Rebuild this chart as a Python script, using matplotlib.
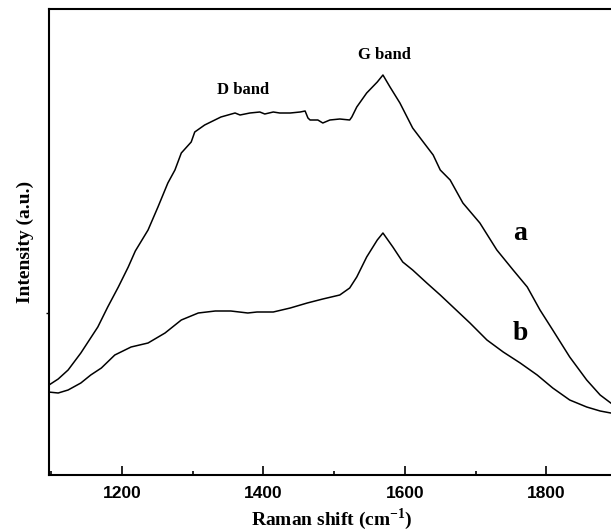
import matplotlib
matplotlib.use("Agg")
import matplotlib.pyplot as plt
from matplotlib.ticker import MultipleLocator

plt.rcParams['mathtext.fontset'] = 'custom'
plt.rcParams['mathtext.rm'] = 'Liberation Serif:bold'
plt.rcParams['mathtext.bf'] = 'Liberation Serif:bold'

# Curve a (Raman shift, intensity a.u.)
x_a = [1097, 1110, 1124, 1142, 1166, 1180, 1195, 1209, 1219, 1237, 1251, 1265, 1275, 1284,
       1298, 1303, 1317, 1340, 1360, 1367, 1381, 1395, 1402, 1414, 1423, 1438, 1452, 1459,
       1463, 1466, 1477, 1484, 1494, 1508, 1522, 1525, 1532, 1546, 1561, 1569, 1579, 1593,
       1611, 1626, 1640, 1650, 1664, 1682, 1706, 1730, 1753, 1773, 1791, 1809, 1833, 1857,
       1876, 1891]
y_a = [90, 96, 105, 122, 148, 168, 188, 208, 224, 245, 268, 292, 305, 322,
       333, 343, 350, 358, 362, 360, 362, 363, 361, 363, 362, 362, 363, 364,
       357, 355, 355, 352, 355, 356, 355, 358, 368, 382, 393, 400, 388, 372,
       347, 333, 320, 305, 295, 272, 252, 225, 205, 188, 165, 145, 118, 95,
       80, 72]

# Curve b
x_b = [1096, 1110, 1124, 1142, 1156, 1171, 1190, 1213, 1237, 1261, 1284, 1308, 1332, 1354,
       1378, 1391, 1414, 1438, 1462, 1484, 1508, 1522, 1532, 1546, 1561, 1569, 1583,
       1597, 1611, 1631, 1650, 1668, 1692, 1716, 1739, 1763, 1787, 1809, 1833, 1857, 1876,
       1891]
y_b = [83, 82, 85, 92, 100, 107, 120, 128, 132, 142, 155, 162, 164, 164,
       162, 163, 163, 167, 172, 176, 180, 187, 198, 218, 235, 242, 228,
       213, 205, 192, 180, 168, 152, 135, 123, 112, 100, 87, 75, 68, 64,
       62]

x_ticks = [1200, 1400, 1600, 1800]
tick_labels = ['1200', '1400', '1600', '1800']

W, H = 611, 532
fig = plt.figure(figsize=(W / 100, H / 100), dpi=100)
ax = fig.add_axes([49 / W, (H - 475) / H, 566 / W, 466 / H])

ax.plot(x_a, y_a, color='black', lw=1.1)
ax.plot(x_b, y_b, color='black', lw=1.1)

ax.set_xlim(1097, 1897)
ax.set_ylim(0, 466)

for s in ['left', 'bottom', 'top', 'right']:
    ax.spines[s].set_linewidth(1.5)

ax.set_xticks(x_ticks)
ax.set_xticklabels(tick_labels, fontfamily='Liberation Sans', fontweight='bold', fontsize=12.5)
ax.xaxis.set_minor_locator(MultipleLocator(100))
ax.tick_params(axis='x', which='major', direction='in', length=6.5, width=1.2, pad=8)
ax.tick_params(axis='x', which='minor', direction='in', length=3, width=1.2)
ax.tick_params(axis='x', which='both', top=False)

ax.set_yticks([162])
ax.set_yticklabels([''])
ax.tick_params(axis='y', which='major', direction='out', length=2, width=1.0)

ax.set_xlabel('Raman shift (cm$^{-1}$)', fontfamily='Liberation Serif',
              fontweight='bold', fontsize=14, labelpad=4)
ax.set_ylabel('Intensity (a.u.)', fontfamily='Liberation Serif',
              fontweight='bold', fontsize=14, labelpad=5)

tf = dict(fontfamily='Liberation Serif', fontweight='bold', ha='center', va='center')
ax.text(1371, 475 - 90, 'D band', fontsize=12, **tf)
ax.text(1571, 475 - 55, 'G band', fontsize=12, **tf)
ax.text(1763, 475 - 234, 'a', fontsize=20, **tf)
ax.text(1763, 475 - 334, 'b', fontsize=20, **tf)

fig.savefig('out.png', dpi=100)
